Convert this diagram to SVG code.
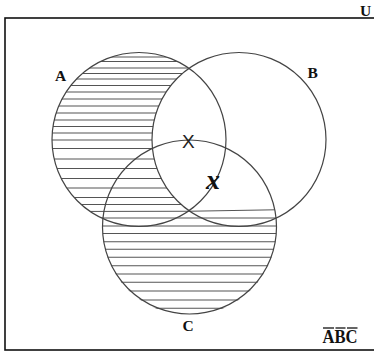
<svg xmlns="http://www.w3.org/2000/svg" width="374" height="352" viewBox="0 0 374 352">
<style>
.frame{fill:none;stroke:#111;stroke-width:1.6}
.circ{fill:none;stroke:#444;stroke-width:1.2}
.hatch line{stroke:#555;stroke-width:1.1}
.lbl{font-family:"Liberation Serif",serif;font-weight:bold;fill:#111}
</style>
<defs>
<clipPath id="hatchClip">
<path d="M189,68.3 A87,87 0 1,0 189,210.7 A87,87 0 0,1 189,68.3 Z"/>
<path d="M104.8,208.5 L274.2,208.5 A87,87 0 1,1 104.8,208.5 Z"/>
</clipPath>
</defs>
<rect id="frame" class="frame" x="5" y="18" width="371" height="332"/>
<g id="hatching" class="hatch" clip-path="url(#hatchClip)">
<line x1="40" y1="57" x2="340" y2="57"/>
<line x1="40" y1="61.5" x2="340" y2="61.5"/>
<line x1="40" y1="68" x2="340" y2="68"/>
<line x1="40" y1="73.5" x2="340" y2="73.5"/>
<line x1="40" y1="79" x2="340" y2="79"/>
<line x1="40" y1="85.5" x2="340" y2="85.5"/>
<line x1="40" y1="92" x2="340" y2="92"/>
<line x1="40" y1="99" x2="340" y2="99"/>
<line x1="40" y1="106" x2="340" y2="106"/>
<line x1="40" y1="113" x2="340" y2="113"/>
<line x1="40" y1="120" x2="340" y2="120"/>
<line x1="40" y1="126.5" x2="340" y2="126.5"/>
<line x1="40" y1="133" x2="340" y2="133"/>
<line x1="40" y1="140" x2="340" y2="140"/>
<line x1="40" y1="148.5" x2="340" y2="148.5"/>
<line x1="40" y1="159" x2="340" y2="159"/>
<line x1="40" y1="168.5" x2="340" y2="168.5"/>
<line x1="40" y1="178.5" x2="340" y2="178.5"/>
<line x1="40" y1="188" x2="340" y2="188"/>
<line x1="40" y1="197.5" x2="340" y2="197.5"/>
<line x1="40" y1="204.5" x2="340" y2="204.5"/>
<line x1="40" y1="211.5" x2="189" y2="211.2"/>
<line x1="189" y1="211.2" x2="340" y2="208.8"/>
<line x1="40" y1="218" x2="340" y2="218"/>
<line x1="40" y1="226" x2="340" y2="226"/>
<line x1="40" y1="233.5" x2="340" y2="233.5"/>
<line x1="40" y1="241.7" x2="340" y2="241.7"/>
<line x1="40" y1="249.3" x2="340" y2="249.3"/>
<line x1="40" y1="257.3" x2="340" y2="257.3"/>
<line x1="40" y1="265.7" x2="340" y2="265.7"/>
<line x1="40" y1="274" x2="340" y2="274"/>
<line x1="40" y1="282.3" x2="340" y2="282.3"/>
<line x1="40" y1="291" x2="340" y2="291"/>
<line x1="40" y1="300" x2="340" y2="300"/>
<line x1="40" y1="308.3" x2="340" y2="308.3"/>
</g>
<g id="circle-A"><circle class="circ" cx="139" cy="139.5" r="87"/><text class="lbl" x="55" y="81" font-size="15.5">A</text></g>
<g id="circle-B"><circle class="circ" cx="239" cy="139.5" r="87"/><text class="lbl" x="307.5" y="78" font-size="15.5">B</text></g>
<g id="circle-C"><circle class="circ" cx="189.5" cy="227" r="87"/><text class="lbl" x="182.5" y="331" font-size="15.5">C</text></g>
<g id="labels">
<text class="lbl" x="360" y="16" font-size="15.5">U</text>
<text x="182" y="148" font-family="Liberation Sans, sans-serif" font-size="19" fill="#222">X</text>
<text x="206" y="189" font-family="Liberation Serif, serif" font-style="italic" font-weight="bold" font-size="28" fill="#111">x</text>
<text class="lbl" x="322.5" y="343" font-size="18" textLength="35" lengthAdjust="spacingAndGlyphs">ABC</text>
<g stroke="#111" stroke-width="1.3">
<line x1="323" y1="328" x2="334" y2="328"/>
<line x1="335.5" y1="328" x2="345.5" y2="328"/>
<line x1="347" y1="328" x2="357.5" y2="328"/>
</g>
</g>
</svg>
